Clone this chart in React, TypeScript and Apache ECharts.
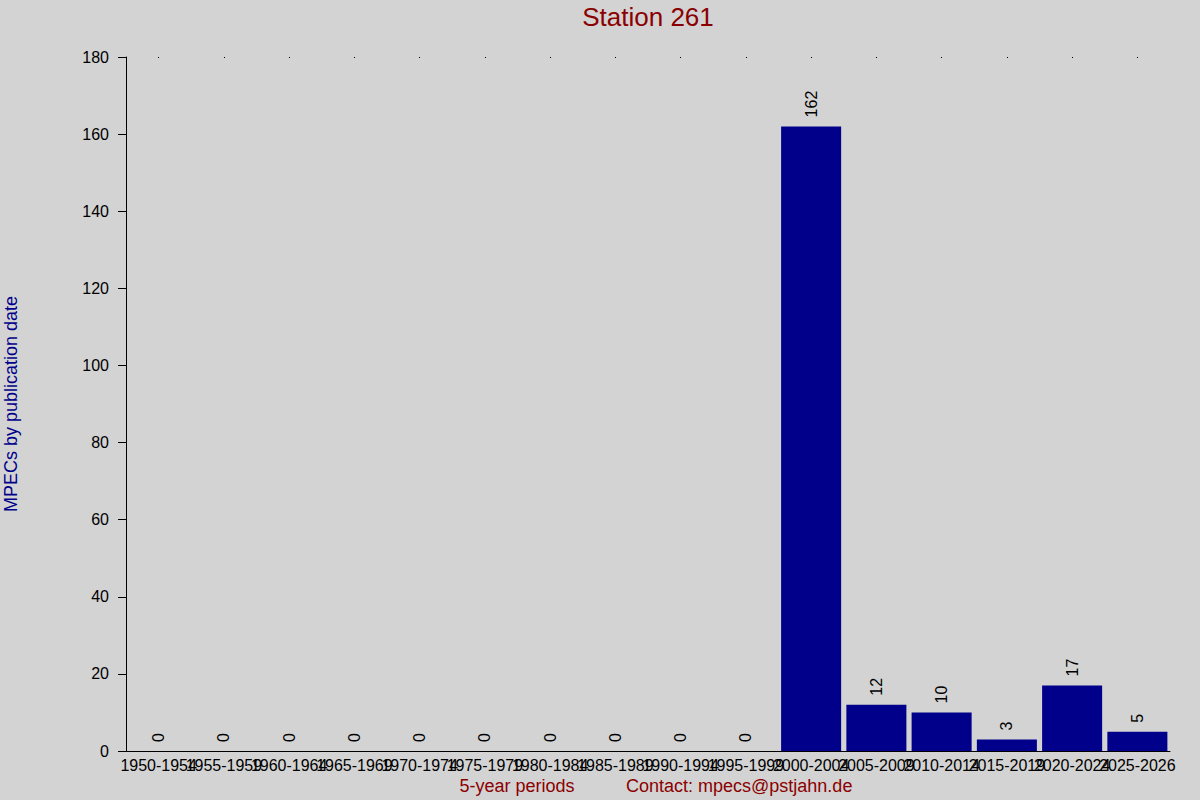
import React, { useRef, useEffect } from 'react';
import * as echarts from 'echarts';

const periods = [
  '1950-1954', '1955-1959', '1960-1964', '1965-1969', '1970-1974', '1975-1979',
  '1980-1984', '1985-1989', '1990-1994', '1995-1999', '2000-2004', '2005-2009',
  '2010-2014', '2015-2019', '2020-2024', '2025-2026',
];
const mpecCounts = [0, 0, 0, 0, 0, 0, 0, 0, 0, 0, 162, 12, 10, 3, 17, 5];
const yTicks = { min: 0, max: 180, interval: 20 };

const FONT = '"Liberation Sans", Arial, sans-serif';

const App: React.FC = () => {
  const chartRef = useRef<HTMLDivElement>(null);

  useEffect(() => {
    if (!chartRef.current) return;
    const chart = echarts.init(chartRef.current, undefined, { renderer: 'svg' });

    const option: any = {
      animation: false,
      backgroundColor: '#d3d3d3',
      textStyle: { fontFamily: FONT },
      graphic: [
        {
          type: 'text',
          x: 648,
          y: 4,
          style: {
            text: 'Station 261', fill: '#8b0000', fontSize: 26, fontFamily: FONT,
            textAlign: 'center', textVerticalAlign: 'top',
          },
        },
        {
          type: 'text',
          x: 517,
          y: 786,
          style: {
            text: '5-year periods', fill: '#8b0000', fontSize: 18, fontFamily: FONT,
            textAlign: 'center', textVerticalAlign: 'middle',
          },
        },
        {
          type: 'text',
          x: 626,
          y: 786,
          style: {
            text: 'Contact: mpecs@pstjahn.de', fill: '#8b0000', fontSize: 18, fontFamily: FONT,
            textAlign: 'left', textVerticalAlign: 'middle',
          },
        },
      ],
      grid: { left: 126, right: 30, top: 57, bottom: 49, containLabel: false, outerBoundsMode: 'none' },
      xAxis: [
        {
          type: 'category',
          data: periods,
          axisLine: { lineStyle: { color: '#000', width: 1 } },
          axisTick: { show: false },
          axisLabel: { interval: 0, color: '#000', fontSize: 16, margin: 6, fontFamily: FONT },
        },
        {
          type: 'category',
          position: 'top',
          data: periods,
          axisLine: { show: false },
          axisTick: { show: true, interval: 0, alignWithLabel: true, length: 1, inside: true, lineStyle: { color: '#000' } },
          axisLabel: { show: false },
        },
      ],
      yAxis: {
        type: 'value',
        min: yTicks.min,
        max: yTicks.max,
        interval: yTicks.interval,
        name: 'MPECs by publication date',
        nameLocation: 'middle',
        nameGap: 106,
        nameTextStyle: { color: '#00008b', fontSize: 18, fontFamily: FONT },
        axisLine: { show: true, lineStyle: { color: '#000', width: 1 } },
        axisTick: { show: true, length: 8, lineStyle: { color: '#000' } },
        axisLabel: { color: '#000', fontSize: 16, margin: 17, fontFamily: FONT },
        splitLine: { show: false },
      },
      series: [
        {
          type: 'bar',
          data: mpecCounts,
          barCategoryGap: '8%',
          itemStyle: { color: '#00008b' },
          label: {
            show: true,
            position: 'top',
            rotate: 90,
            align: 'left',
            verticalAlign: 'middle',
            distance: 9,
            color: '#000',
            fontSize: 16,
            fontFamily: FONT,
          },
        },
      ],
    };

    chart.setOption(option);
    return () => chart.dispose();
  }, []);

  return (
    <div
      ref={chartRef}
      style={{ position: 'absolute', left: 0, top: 0, width: 1200, height: 800 }}
    />
  );
};

export default App;
